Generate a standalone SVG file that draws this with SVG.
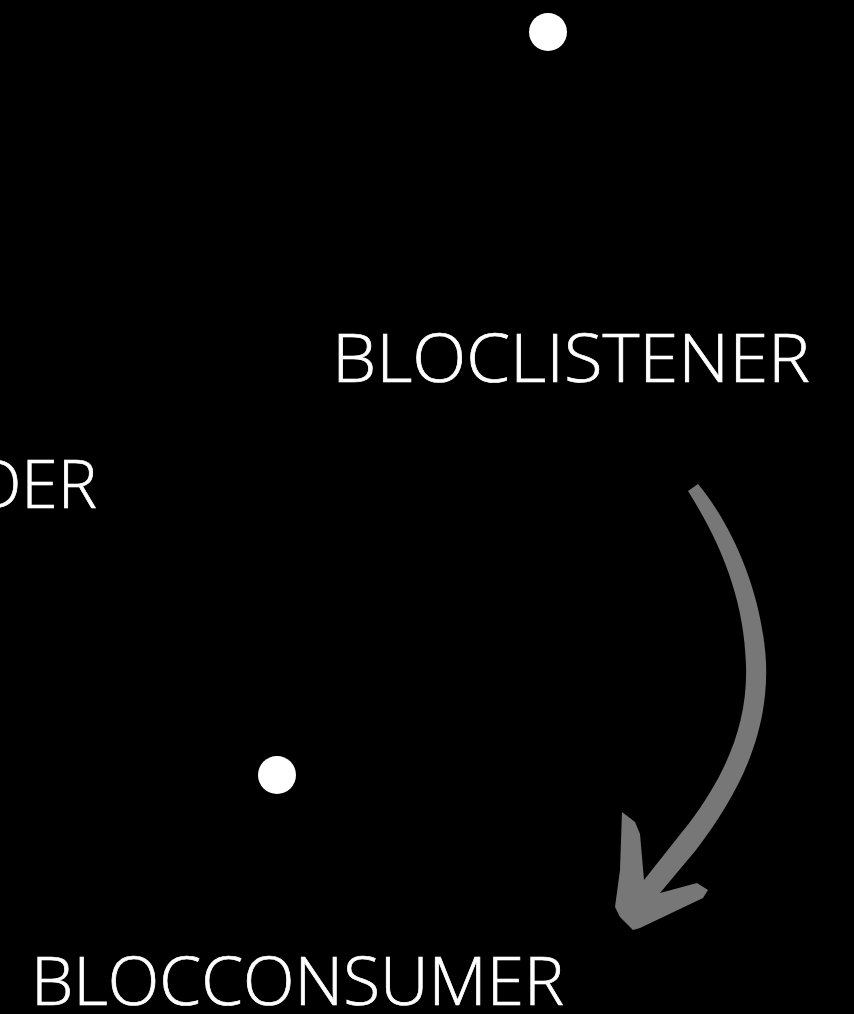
<svg xmlns="http://www.w3.org/2000/svg" width="854" height="1014" viewBox="0 0 854 1014">
<style>
.lbl{font-family:"Open Sans","Noto Sans","Liberation Sans",sans-serif;font-weight:300;font-size:66px;fill:#ffffff;stroke:#ffffff;stroke-width:0.7px;}
.dot{fill:#ffffff;}
.arrow{fill:#777777;}
</style>
<rect width="854" height="1014" fill="#000000"/>
<g id="dot-top"><circle class="dot" cx="548" cy="32" r="19"/></g>
<g id="dot-bottom"><circle class="dot" cx="277" cy="775" r="19"/></g>
<g id="blocprovider"><text class="lbl" x="97" y="508" text-anchor="end">DER</text></g>
<g id="bloclistener"><text class="lbl" x="332" y="382" textLength="478" lengthAdjust="spacingAndGlyphs">BLOCLISTENER</text></g>
<g id="blocconsumer"><text class="lbl" x="31" y="1005" textLength="533" lengthAdjust="spacingAndGlyphs">BLOCCONSUMER</text></g>
<g id="connectors">
<path class="arrow" d="M 688,491 L 698,484 C 732,525 762,592 766,662 C 769,735 738,795 696,850 L 660,893 L 697,883 L 708,890 L 703,898 L 640,928 L 633,930 L 620,917 L 615,907 L 620,870 L 622,812 L 635,822 L 640,834 L 644,880 L 690,822 C 725,775 748,725 746,665 C 744,600 722,545 688,491 Z"/>
</g>
</svg>
